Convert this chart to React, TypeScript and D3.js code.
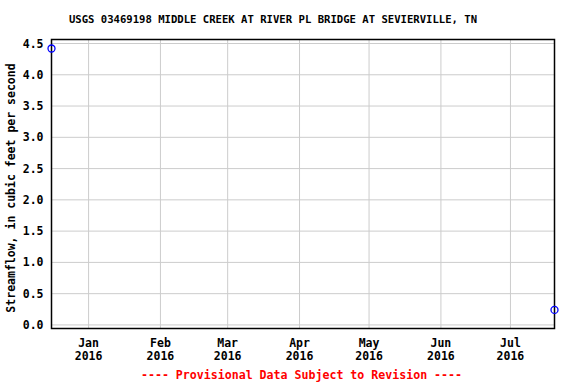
import React from "react";
import * as d3 from "d3";

const title = "USGS 03469198 MIDDLE CREEK AT RIVER PL BRIDGE AT SEVIERVILLE, TN";
const yLabel = "Streamflow, in cubic feet per second";
const footer = "---- Provisional Data Subject to Revision ----";

const dates = ["2015-12-16", "2016-07-20"];
const flows = [4.42, 0.24];

const yTicks = [0, 0.5, 1.0, 1.5, 2.0, 2.5, 3.0, 3.5, 4.0, 4.5];
const xTickDates = ["2016-01-01", "2016-02-01", "2016-03-01", "2016-04-01", "2016-05-01", "2016-06-01", "2016-07-01"];
const xTickMonths = ["Jan", "Feb", "Mar", "Apr", "May", "Jun", "Jul"];
const xTickYears = ["2016", "2016", "2016", "2016", "2016", "2016", "2016"];

const W = 576, H = 384;
const L = 51.5, R = 554.5, T = 39.5, B = 328.5;
const FONT = "'DejaVu Sans Mono', monospace";

export default function App() {
  const parse = d3.utcParse("%Y-%m-%d");
  const pts = dates.map((d, i) => ({ date: parse(d)!, v: flows[i] }));
  const x = d3.scaleUtc().domain(d3.extent(pts, (p) => p.date) as [Date, Date]).range([L, R]);
  const y = d3.scaleLinear().domain([-0.057, 4.564]).range([B, T]);

  return (
    <svg width={W} height={H} style={{ position: "absolute", left: 0, top: 0, background: "#fff" }}>
      <rect x={0} y={0} width={W} height={H} fill="#fff" />
      <text x={273} y={23} textAnchor="middle" fontFamily={FONT} fontWeight="bold" fontSize={10.6} fill="#000">
        {title}
      </text>
      {yTicks.map((t) => (
        <line key={"gy" + t} x1={L} x2={R} y1={y(t)} y2={y(t)} stroke="#cccccc" strokeWidth={1} />
      ))}
      {xTickDates.map((d) => {
        const xx = x(parse(d)!);
        return <line key={"gx" + d} x1={xx} x2={xx} y1={T} y2={B} stroke="#cccccc" strokeWidth={1} />;
      })}
      <rect x={L} y={T} width={R - L} height={B - T} fill="none" stroke="#000" strokeWidth={1.5} />
      {yTicks.map((t) => (
        <text key={"ty" + t} x={43.5} y={y(t) + 4} textAnchor="end" fontFamily={FONT} fontWeight="bold" fontSize={11.5} fill="#000">
          {t.toFixed(1)}
        </text>
      ))}
      {xTickDates.map((d, i) => {
        const xx = x(parse(d)!);
        return (
          <g key={"tx" + d}>
            <text x={xx} y={346.5} textAnchor="middle" fontFamily={FONT} fontWeight="bold" fontSize={11.5} fill="#000">
              {xTickMonths[i]}
            </text>
            <text x={xx} y={360} textAnchor="middle" fontFamily={FONT} fontWeight="bold" fontSize={11.5} fill="#000">
              {xTickYears[i]}
            </text>
          </g>
        );
      })}
      <text
        transform={`translate(15,${(T + B) / 2 + 4}) rotate(-90)`}
        textAnchor="middle"
        fontFamily={FONT}
        fontWeight="bold"
        fontSize={11.5}
        fill="#000"
      >
        {yLabel}
      </text>
      {pts.map((p, i) => (
        <circle key={"p" + i} cx={x(p.date)} cy={y(p.v)} r={3.5} fill="none" stroke="#0000ff" strokeWidth={1.3} />
      ))}
      <text x={301.5} y={379} textAnchor="middle" fontFamily={FONT} fontWeight="bold" fontSize={11.6} fill="#ff0000">
        {footer}
      </text>
    </svg>
  );
}
